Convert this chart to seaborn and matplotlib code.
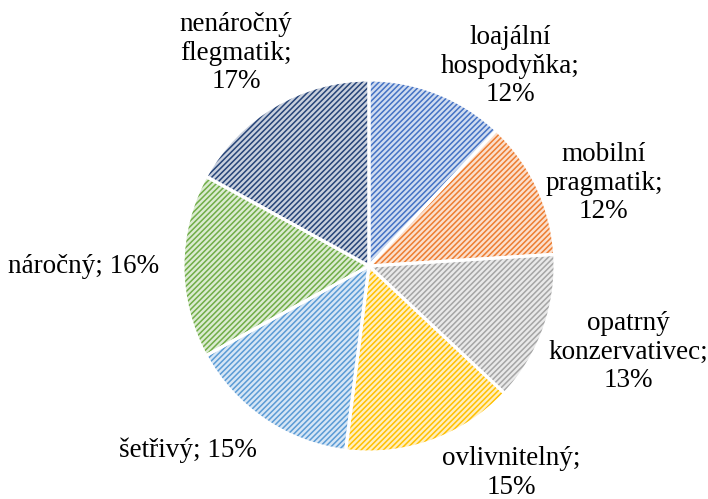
import numpy as np
import matplotlib
matplotlib.use("Agg")
import matplotlib.pyplot as plt
import matplotlib.colors as mcolors
import seaborn as sns

# segment names and shares (%), clockwise from 12 o'clock
segments = ["loajální\nhospodyňka", "mobilní\npragmatik", "opatrný\nkonzervativec",
            "ovlivnitelný", "šetřivý", "náročný", "nenáročný\nflegmatik"]
shares = [12, 12, 13, 15, 15, 16, 17]
colors = ["#4472C4", "#ED7D31", "#A5A5A5", "#FFC000", "#5B9BD5", "#70AD47", "#264478"]

# where each label sits (in pie-radius units) and how it is joined
label_pos = [(0.758, 1.075), (1.263, 0.446), (1.395, -0.462), (0.763, -1.112),
             (-0.973, -0.989), (-1.532, -0.005), (-0.715, 1.145)]
joiner = ["\n", "\n", "\n", "\n", " ", " ", "\n"]

sns.set_theme(style="white")
plt.rcParams["font.family"] = ["Liberation Serif", "DejaVu Serif"]
plt.rcParams["hatch.linewidth"] = 1.1

fig = plt.figure(figsize=(7.08, 4.99), dpi=100)
ax = fig.add_axes([183 / 708, 47 / 499, 372 / 708, 372 / 499])

tints = [mcolors.to_rgb(c) for c in colors]
tints = [tuple(1 - 0.25 * (1 - v) for v in c) for c in tints]

wedges, _ = ax.pie(shares, colors=tints, startangle=90, counterclock=False,
                   radius=1.0, wedgeprops=dict(linewidth=0))
for w, c in zip(wedges, colors):
    w.set_hatch("//////")
    w.set_edgecolor(c)
    w.set_linewidth(0)

# white gaps between slices
ax.pie(shares, colors=["none"] * len(shares), startangle=90, counterclock=False,
       radius=1.0, wedgeprops=dict(linewidth=2.2, edgecolor="white", fill=False))

for name, val, (x, y), j in zip(segments, shares, label_pos, joiner):
    ax.text(x, y, f"{name};{j}{val}%", ha="center", va="center", fontsize=19.5,
            linespacing=1.2, clip_on=False, color="black")

ax.set_xlim(-1, 1)
ax.set_ylim(-1, 1)
ax.set_aspect("auto")
ax.axis("off")

fig.savefig("out.png", dpi=100)
